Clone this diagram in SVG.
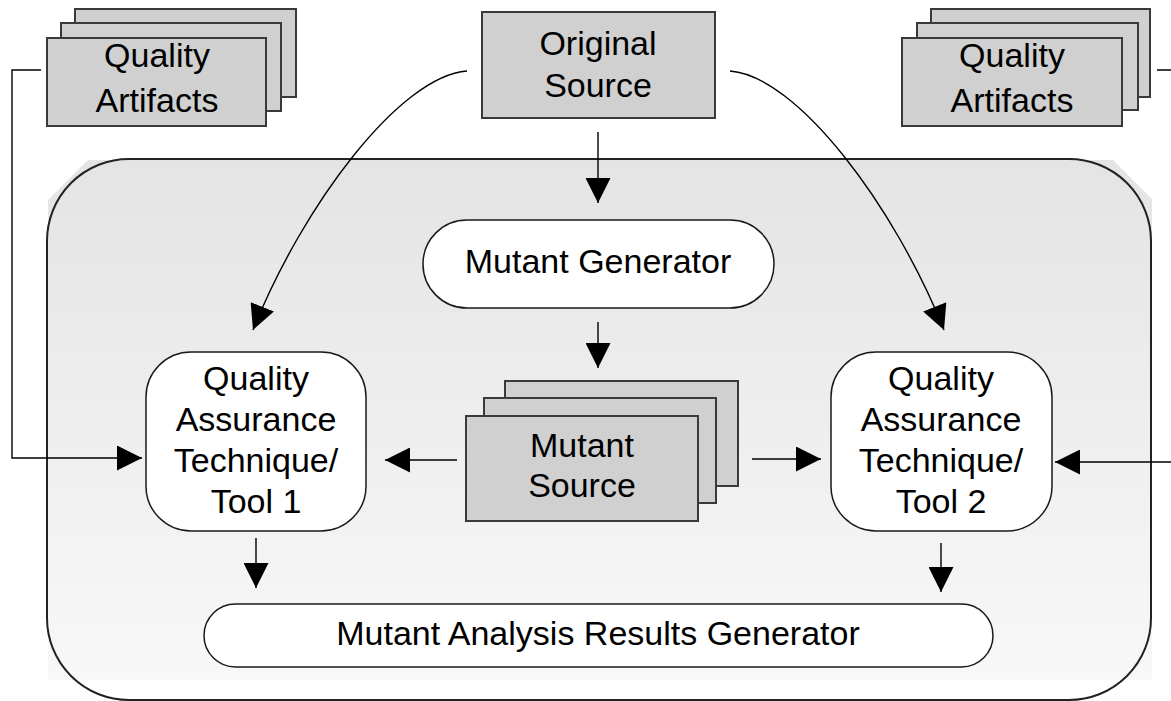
<svg xmlns="http://www.w3.org/2000/svg" width="1171" height="701" viewBox="0 0 1171 701">
<defs>
<linearGradient id="bg" x1="0" y1="160" x2="0" y2="680" gradientUnits="userSpaceOnUse">
<stop offset="0" stop-color="#e4e4e4"/>
<stop offset="1" stop-color="#f8f8f8"/>
</linearGradient>
<marker id="ah" viewBox="0 0 25 25" refX="25" refY="12.5" markerWidth="25" markerHeight="25" markerUnits="userSpaceOnUse" orient="auto">
<path d="M0,0 L25,12.5 L0,25 z" fill="#000"/>
</marker>
<style>
.g{fill:#d0d0d0;stroke:#3a3a3a;stroke-width:2}
.w{fill:#fff;stroke:#1a1a1a;stroke-width:1.5}
.t{font-family:"Liberation Sans",Arial,sans-serif;font-size:34px;fill:#000;text-anchor:middle}
.c{fill:none;stroke:#000;stroke-width:1.4;marker-end:url(#ah)}
.p{fill:none;stroke:#000;stroke-width:1.4}
</style>
</defs>
<rect width="1171" height="701" fill="#fff"/>
<g id="container">
<polygon points="88,160 1113,160 1152,199 1152,680 48,680 48,200" fill="url(#bg)"/>
<rect x="47" y="159" width="1104" height="541" rx="82" ry="82" fill="none" stroke="#222" stroke-width="2"/>
</g>
<g id="qa-left">
<rect class="g" x="75" y="9" width="221" height="88"/>
<rect class="g" x="61" y="23" width="220" height="88"/>
<rect class="g" x="47" y="38" width="219" height="88"/>
<text class="t" x="157" y="67">Quality</text>
<text class="t" x="157" y="112">Artifacts</text>
</g>
<g id="qa-right">
<rect class="g" x="931" y="9" width="219" height="88"/>
<rect class="g" x="917" y="23" width="221" height="87"/>
<rect class="g" x="902" y="38" width="220" height="88"/>
<text class="t" x="1012" y="67">Quality</text>
<text class="t" x="1012" y="112">Artifacts</text>
</g>
<g id="original-source">
<rect class="g" x="482" y="12" width="233" height="106"/>
<text class="t" x="598" y="55">Original</text>
<text class="t" x="598" y="97">Source</text>
</g>
<g id="mutant-generator">
<rect class="w" x="423" y="220" width="351" height="88" rx="44" ry="44"/>
<text class="t" x="598" y="273">Mutant Generator</text>
</g>
<g id="mutant-source">
<rect class="g" x="505" y="381" width="233" height="105"/>
<rect class="g" x="484" y="398" width="232" height="105"/>
<rect class="g" x="466" y="416" width="232" height="105"/>
<text class="t" x="582" y="457">Mutant</text>
<text class="t" x="582" y="497">Source</text>
</g>
<g id="tool1">
<rect class="w" x="146" y="352" width="220" height="179" rx="45" ry="45"/>
<text class="t" x="256" y="390">Quality</text>
<text class="t" x="256" y="431">Assurance</text>
<text class="t" x="256" y="472">Technique/</text>
<text class="t" x="256" y="513">Tool 1</text>
</g>
<g id="tool2">
<rect class="w" x="831" y="352" width="221" height="179" rx="45" ry="45"/>
<text class="t" x="941" y="390">Quality</text>
<text class="t" x="941" y="431">Assurance</text>
<text class="t" x="941" y="472">Technique/</text>
<text class="t" x="941" y="513">Tool 2</text>
</g>
<g id="results">
<rect class="w" x="204" y="604" width="789" height="63" rx="31.5" ry="31.5"/>
<text class="t" x="598" y="645">Mutant Analysis Results Generator</text>
</g>
<g id="connectors">
<path class="c" d="M598,132 V203"/>
<path class="c" d="M598,322 V368"/>
<path class="c" d="M457,460 H385"/>
<path class="c" d="M752,459 H821"/>
<path class="c" d="M256,538 V588"/>
<path class="c" d="M941,543 V592"/>
<path class="c" d="M41,70 H12 V458 H142"/>
<path class="c" d="M1157,70 H1185 V462 H1055"/>
<path class="c" d="M467,71 C400,76 303,205 253,330"/>
<path class="c" d="M730,71 C797,76 894,205 944,330"/>
</g>
</svg>
